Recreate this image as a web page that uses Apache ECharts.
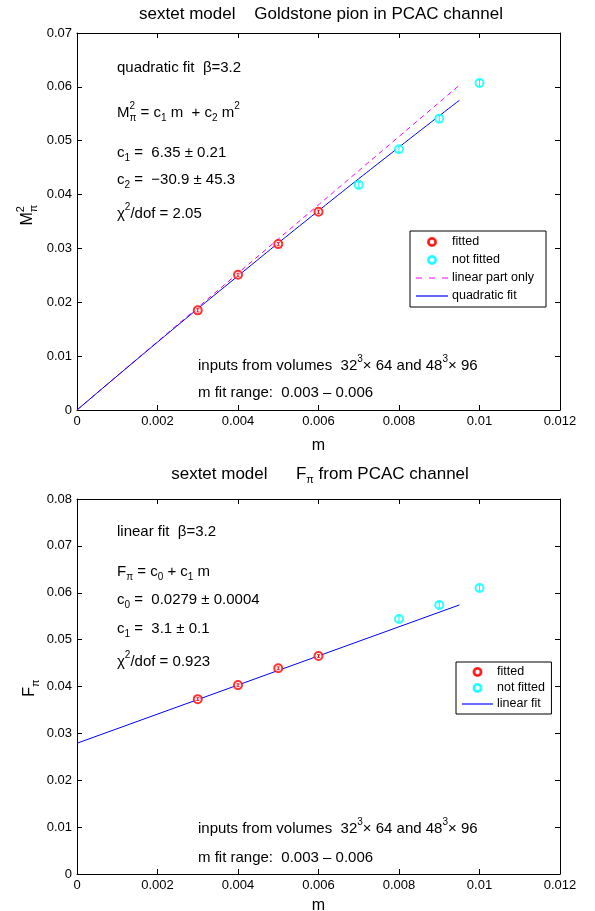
<!DOCTYPE html>
<html><head><meta charset="utf-8">
<script src="https://cdn.jsdelivr.net/npm/echarts@6/dist/echarts.min.js"></script>
<style>html,body{margin:0;padding:0;background:#fff}#c{width:595px;height:911px}</style>
</head><body><div id="c"></div>
<script>
// ---- top panel data: M_pi^2 vs m ----
const topFittedM = [0.003, 0.004, 0.005, 0.006];
const topFittedY = [0.0185, 0.0251, 0.0308, 0.0368];
const topFittedErr = [0.0003, 0.0003, 0.0003, 0.0003];
const topNotFittedM = [0.007, 0.008, 0.009, 0.010];
const topNotFittedY = [0.0418, 0.0484, 0.0541, 0.0607];
const topNotFittedErr = [0.0005, 0.0005, 0.0006, 0.0006];
const topLinearM = [0, 0.0095];
const topLinearY = [0, 0.0603];
const topQuadM = [0, 0.002, 0.004, 0.006, 0.008, 0.0095];
const topQuadY = [0, 0.0126, 0.0249, 0.0370, 0.0488, 0.0575];
// ---- bottom panel data: F_pi vs m ----
const botFittedM = [0.003, 0.004, 0.005, 0.006];
const botFittedY = [0.0373, 0.0403, 0.0439, 0.0465];
const botFittedErr = [0.0003, 0.0003, 0.0003, 0.0003];
const botNotFittedM = [0.008, 0.009, 0.010];
const botNotFittedY = [0.0544, 0.0574, 0.0610];
const botNotFittedErr = [0.0005, 0.0006, 0.0006];
const botLinM = [0, 0.0095];
const botLinY = [0.0279, 0.0574];
// ---- axis ticks ----
const xTicks = [0, 0.002, 0.004, 0.006, 0.008, 0.01, 0.012];
const topYMax = 0.07, botYMax = 0.08, yStep = 0.01, xStep = 0.002;

const zip = (a, b) => a.map((v, i) => [v, b[i]]);
const zip3 = (a, b, c) => a.map((v, i) => [v, b[i], c[i]]);

const FONT = '"Liberation Sans", Arial, sans-serif';
const RED = '#ff0000', CYAN = '#00ffff', MAG = '#ff00ff', BLUE = '#0000ff';

// text measuring / equation layout
const mctx = document.createElement('canvas').getContext('2d');
function tw(t, size) { mctx.font = size + 'px ' + FONT; return mctx.measureText(t).width; }
function eqWidth(parts, base) {
  const small = Math.round(base * 0.66);
  let w = 0;
  parts.forEach(p => {
    if (p[0] === 'n') w += tw(p[1], base);
    else if (p[0] === 'stk') w += Math.max(tw(p[1], small), tw(p[2], small));
    else w += tw(p[1], small);
  });
  return w;
}
function eqElems(x0, y, parts, base) {
  const small = Math.round(base * 0.66);
  const up = -base * 0.42, dn = base * 0.38;
  const out = [];
  let x = x0;
  const mk = (t, xx, yy, s) => ({ type: 'text', x: xx, y: yy, silent: true,
    style: { text: t, font: s + 'px ' + FONT, fill: '#000', align: 'left', verticalAlign: 'middle' } });
  parts.forEach(p => {
    if (p[0] === 'n') { out.push(mk(p[1], x, y, base)); x += tw(p[1], base); }
    else if (p[0] === 'sup') { out.push(mk(p[1], x, y + up, small)); x += tw(p[1], small); }
    else if (p[0] === 'sub') { out.push(mk(p[1], x, y + dn, small)); x += tw(p[1], small); }
    else if (p[0] === 'stk') {
      out.push(mk(p[1], x, y + up, small)); out.push(mk(p[2], x, y + dn, small));
      x += Math.max(tw(p[1], small), tw(p[2], small));
    }
  });
  return out;
}

function errSeries(name, data, xi, yi, color) {
  return {
    name: name, type: 'custom', xAxisIndex: xi, yAxisIndex: yi, data: data, silent: true, z: 6,
    renderItem: function (params, api) {
      const p1 = api.coord([api.value(0), api.value(1) - api.value(2)]);
      const p2 = api.coord([api.value(0), api.value(1) + api.value(2)]);
      return { type: 'group', children: [
        { type: 'line', shape: { x1: p1[0], y1: p1[1], x2: p2[0], y2: p2[1] }, style: { stroke: color, lineWidth: 1 } },
        { type: 'line', shape: { x1: p1[0] - 1.5, y1: p1[1], x2: p1[0] + 1.5, y2: p1[1] }, style: { stroke: color, lineWidth: 0.8 } },
        { type: 'line', shape: { x1: p2[0] - 1.5, y1: p2[1], x2: p2[0] + 1.5, y2: p2[1] }, style: { stroke: color, lineWidth: 0.8 } }
      ]};
    }
  };
}

const tickLbl = { color: '#000', fontSize: 13, fontFamily: FONT };
function xAx(gi, pos, show, gap) {
  return { type: 'value', gridIndex: gi, position: pos, min: 0, max: 0.012, interval: xStep,
    axisLine: { show: true, onZero: false, lineStyle: { color: '#000', width: 1 } },
    axisTick: { show: true, inside: true, length: 5, lineStyle: { color: '#000' } },
    axisLabel: show ? Object.assign({ margin: 5 }, tickLbl) : { show: false },
    splitLine: { show: false },
    name: show ? 'm' : '', nameLocation: 'middle', nameGap: gap || 28,
    nameTextStyle: { fontSize: 16, fontFamily: FONT, color: '#000' } };
}
function yAx(gi, pos, max, show) {
  return { type: 'value', gridIndex: gi, position: pos, min: 0, max: max, interval: yStep,
    axisLine: { show: true, onZero: false, lineStyle: { color: '#000', width: 1 } },
    axisTick: { show: true, inside: true, length: 5, lineStyle: { color: '#000' } },
    axisLabel: show ? Object.assign({ margin: 5 }, tickLbl) : { show: false },
    splitLine: { show: false } };
}

const RING = 'path://M0,-10A10,10 0 1,1 0,10A10,10 0 1,1 0,-10Z M0,-7.9A7.9,7.9 0 1,0 0,7.9A7.9,7.9 0 1,0 0,-7.9Z';
const SOLID = 'path://M0,0h32v1.2h-32z';
const DASHED = 'path://M0,0h6v1.2h-6z M13,0h6v1.2h-6z M26,0h6v1.2h-6z';

// annotation texts (parts: n = normal, sup, sub, stk = stacked sup/sub)
const topTitle = [['n', 'sextet model    Goldstone pion in PCAC channel']];
const botTitle = [['n', 'sextet model      F'], ['sub', 'π'], ['n', ' from PCAC channel']];
const topNotes = [
  [68, [['n', 'quadratic fit  β=3.2']]],
  [113, [['n', 'M'], ['stk', '2', 'π'], ['n', ' = c'], ['sub', '1'], ['n', ' m  + c'], ['sub', '2'], ['n', ' m'], ['sup', '2']]],
  [153, [['n', 'c'], ['sub', '1'], ['n', ' =  6.35 ± 0.21']]],
  [180, [['n', 'c'], ['sub', '2'], ['n', ' =  −30.9 ± 45.3']]],
  [214, [['n', 'χ'], ['sup', '2'], ['n', '/dof = 2.05']]]
];
const topFoot = [
  [366, [['n', 'inputs from volumes  32'], ['sup', '3'], ['n', '× 64 and 48'], ['sup', '3'], ['n', '× 96']]],
  [393, [['n', 'm fit range:  0.003 – 0.006']]]
];
const botNotes = [
  [532, [['n', 'linear fit  β=3.2']]],
  [572, [['n', 'F'], ['sub', 'π'], ['n', ' = c'], ['sub', '0'], ['n', ' + c'], ['sub', '1'], ['n', ' m']]],
  [600, [['n', 'c'], ['sub', '0'], ['n', ' =  0.0279 ± 0.0004']]],
  [629, [['n', 'c'], ['sub', '1'], ['n', ' =  3.1 ± 0.1']]],
  [662, [['n', 'χ'], ['sup', '2'], ['n', '/dof = 0.923']]]
];
const botFoot = [
  [829, [['n', 'inputs from volumes  32'], ['sup', '3'], ['n', '× 64 and 48'], ['sup', '3'], ['n', '× 96']]],
  [858, [['n', 'm fit range:  0.003 – 0.006']]]
];

let graphics = [];
graphics = graphics.concat(eqElems(321 - eqWidth(topTitle, 17) / 2, 14, topTitle, 17));
graphics = graphics.concat(eqElems(320 - eqWidth(botTitle, 17) / 2, 474, botTitle, 17));
topNotes.concat(botNotes).forEach(r => { graphics = graphics.concat(eqElems(117, r[0], r[1], 15)); });
topFoot.concat(botFoot).forEach(r => { graphics = graphics.concat(eqElems(198, r[0], r[1], 15)); });
// rotated y-axis names
graphics.push({ type: 'group', x: 28, y: 215, rotation: Math.PI / 2,
  children: eqElems(-eqWidth([['n', 'M'], ['stk', '2', 'π']], 16) / 2, 0, [['n', 'M'], ['stk', '2', 'π']], 16) });
graphics.push({ type: 'group', x: 30, y: 688, rotation: Math.PI / 2,
  children: eqElems(-eqWidth([['n', 'F'], ['sub', 'π']], 16) / 2, 0, [['n', 'F'], ['sub', 'π']], 16) });

const chart = echarts.init(document.getElementById('c'), null, { renderer: 'canvas' });
chart.setOption({
  animation: false,
  backgroundColor: '#fff',
  textStyle: { fontFamily: FONT },
  grid: [
    { left: 77, top: 33, width: 483, height: 377, show: false, containLabel: false, outerBoundsMode: 'none' },
    { left: 77, top: 499, width: 483, height: 375, show: false, containLabel: false, outerBoundsMode: 'none' }
  ],
  xAxis: [xAx(0, 'bottom', true, 28), xAx(0, 'top', false), xAx(1, 'bottom', true, 24), xAx(1, 'top', false)],
  yAxis: [yAx(0, 'left', topYMax, true), yAx(0, 'right', topYMax, false), yAx(1, 'left', botYMax, true), yAx(1, 'right', botYMax, false)],
  legend: [
    { left: 410, top: 231, orient: 'vertical', itemGap: 4, itemWidth: 32, itemHeight: 8,
      padding: [4, 12, 4, 6], borderColor: '#000', borderWidth: 1, backgroundColor: '#fff',
      textStyle: { fontSize: 12.5, lineHeight: 14, fontFamily: FONT, color: '#000', padding: [0, 0, 0, -1] },
      data: [{ name: 'fitted', icon: RING }, { name: 'not fitted', icon: RING },
             { name: 'linear part only', icon: DASHED }, { name: 'quadratic fit', icon: SOLID }] },
    { left: 456, top: 662, orient: 'vertical', itemGap: 2, itemWidth: 31, itemHeight: 8,
      padding: [3, 3, 3, 6], borderColor: '#000', borderWidth: 1, backgroundColor: '#fff',
      textStyle: { fontSize: 12.5, lineHeight: 14, fontFamily: FONT, color: '#000', padding: [0, 0, 0, -1] },
      data: [{ name: 'fitted ', icon: RING }, { name: 'not fitted ', icon: RING }, { name: 'linear fit', icon: SOLID }] }
  ],
  series: [
    { name: 'linear part only', type: 'line', xAxisIndex: 0, yAxisIndex: 0, data: zip(topLinearM, topLinearY),
      showSymbol: false, symbol: 'none', lineStyle: { color: MAG, width: 1, type: [5, 4] }, itemStyle: { color: MAG }, z: 2 },
    { name: 'quadratic fit', type: 'line', xAxisIndex: 0, yAxisIndex: 0, data: zip(topQuadM, topQuadY), smooth: true,
      showSymbol: false, symbol: 'none', lineStyle: { color: BLUE, width: 1 }, itemStyle: { color: BLUE }, z: 3 },
    errSeries('errTopF', zip3(topFittedM, topFittedY, topFittedErr), 0, 0, RED),
    errSeries('errTopNF', zip3(topNotFittedM, topNotFittedY, topNotFittedErr), 0, 0, CYAN),
    { name: 'fitted', type: 'scatter', xAxisIndex: 0, yAxisIndex: 0, data: zip(topFittedM, topFittedY),
      symbol: 'emptyCircle', symbolSize: 8, itemStyle: { color: RED, borderColor: RED, borderWidth: 1 }, z: 5 },
    { name: 'not fitted', type: 'scatter', xAxisIndex: 0, yAxisIndex: 0, data: zip(topNotFittedM, topNotFittedY),
      symbol: 'emptyCircle', symbolSize: 8, itemStyle: { color: CYAN, borderColor: CYAN, borderWidth: 1.5 }, z: 5 },

    { name: 'linear fit', type: 'line', xAxisIndex: 2, yAxisIndex: 2, data: zip(botLinM, botLinY),
      showSymbol: false, symbol: 'none', lineStyle: { color: BLUE, width: 1 }, itemStyle: { color: BLUE }, z: 3 },
    errSeries('errBotF', zip3(botFittedM, botFittedY, botFittedErr), 2, 2, RED),
    errSeries('errBotNF', zip3(botNotFittedM, botNotFittedY, botNotFittedErr), 2, 2, CYAN),
    { name: 'fitted ', type: 'scatter', xAxisIndex: 2, yAxisIndex: 2, data: zip(botFittedM, botFittedY),
      symbol: 'emptyCircle', symbolSize: 8, itemStyle: { color: RED, borderColor: RED, borderWidth: 1 }, z: 5 },
    { name: 'not fitted ', type: 'scatter', xAxisIndex: 2, yAxisIndex: 2, data: zip(botNotFittedM, botNotFittedY),
      symbol: 'emptyCircle', symbolSize: 8, itemStyle: { color: CYAN, borderColor: CYAN, borderWidth: 1.5 }, z: 5 }
  ],
  graphic: graphics
});
</script></body></html>
